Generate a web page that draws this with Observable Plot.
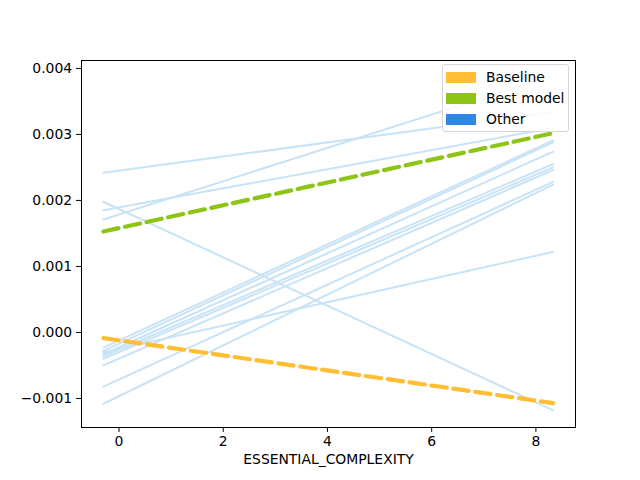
<!DOCTYPE html>
<html>
<head>
<meta charset="utf-8">
<script src="https://cdn.jsdelivr.net/npm/d3@7"></script>
<script src="https://cdn.jsdelivr.net/npm/@observablehq/plot@0.6"></script>
<style>
  body { margin: 0; background: #fff; }
  #wrap { position: relative; width: 640px; height: 480px; font-family: "DejaVu Sans", sans-serif; }
  #legend { position: absolute; left: 442px; top: 64px; width: 127px; height: 68px; box-sizing: border-box;
    border: 1px solid #d6d6d6; border-radius: 3px; background: rgba(255,255,255,0.8); }
  .row { position: absolute; left: 3px; height: 12px; display: flex; align-items: center; font-size: 13.9px; color: #000; white-space: nowrap; }
  .sw { width: 30px; height: 11px; margin-right: 10px; }
</style>
</head>
<body>
<div id="wrap"></div>
<script>
// x positions of the two endpoints (ESSENTIAL_COMPLEXITY)
const xStart = -0.3;
const xEnd = 8.33;

// "Other" models: value at start and end
const otherStart = [0.00242, 0.00198, 0.00185, 0.00171, -0.00023, -0.00028, -0.00030, -0.00033, -0.00036, -0.00040, -0.00050, -0.00082, -0.00108];
const otherEnd   = [0.00334, -0.00118, 0.00310, 0.00389, 0.00291, 0.00288, 0.00122, 0.00274, 0.00255, 0.00250, 0.00246, 0.00228, 0.00224];

// Highlighted models
const baselineVals = [-0.000085, -0.00107];
const bestVals = [0.00153, 0.00302];

const yTicks = [-0.001, 0, 0.001, 0.002, 0.003, 0.004];
const xTicks = [0, 2, 4, 6, 8];

const legendLabels = ["Baseline", "Best model", "Other"];
const legendColors = ["#FFBE33", "#8DC416", "#2E86E6"];
const otherLineColor = "#c8e3f6";

const others = [];
otherStart.forEach((v, i) => {
  others.push({id: i, x: xStart, y: v});
  others.push({id: i, x: xEnd, y: otherEnd[i]});
});
const baseline = [{x: xStart, y: baselineVals[0]}, {x: xEnd, y: baselineVals[1]}];
const best = [{x: xStart, y: bestVals[0]}, {x: xEnd, y: bestVals[1]}];

const fmt = d3.format(".3f");

const chart = Plot.plot({
  width: 640,
  height: 480,
  marginLeft: 81,
  marginRight: 65,
  marginTop: 60,
  marginBottom: 53,
  style: {fontFamily: "DejaVu Sans, sans-serif", fontSize: "13.9px", color: "#000", background: "#fff"},
  x: {domain: [-0.72, 8.76], label: null},
  y: {domain: [-0.00144, 0.00412], label: null},
  marks: [
    Plot.line(others, {x: "x", y: "y", z: "id", stroke: otherLineColor, strokeWidth: 2}),
    Plot.line(baseline, {x: "x", y: "y", stroke: legendColors[0], strokeWidth: 4.2, strokeDasharray: "15.4,6.7"}),
    Plot.line(best, {x: "x", y: "y", stroke: legendColors[1], strokeWidth: 4.2, strokeDasharray: "15.4,6.7"}),
    Plot.frame({stroke: "#000", strokeWidth: 1}),
    Plot.axisX({ticks: xTicks, tickSize: 4.9, tickPadding: 3.5, label: null, fontSize: 13.9}),
    Plot.axisY({ticks: yTicks, tickSize: 4.9, tickPadding: 4.5, tickFormat: fmt, label: null, fontSize: 13.9}),
    Plot.text(["ESSENTIAL_COMPLEXITY"], {frameAnchor: "bottom", dy: 36, fontSize: 13.9, fill: "#000"})
  ]
});

const wrap = document.getElementById("wrap");
wrap.appendChild(chart);

const legend = document.createElement("div");
legend.id = "legend";
legendLabels.forEach((lab, i) => {
  const row = document.createElement("div");
  row.className = "row";
  row.style.top = (6 + i * 21) + "px";
  const sw = document.createElement("span");
  sw.className = "sw";
  sw.style.background = legendColors[i];
  const t = document.createElement("span");
  t.textContent = lab;
  row.appendChild(sw);
  row.appendChild(t);
  legend.appendChild(row);
});
wrap.appendChild(legend);
</script>
</body>
</html>
